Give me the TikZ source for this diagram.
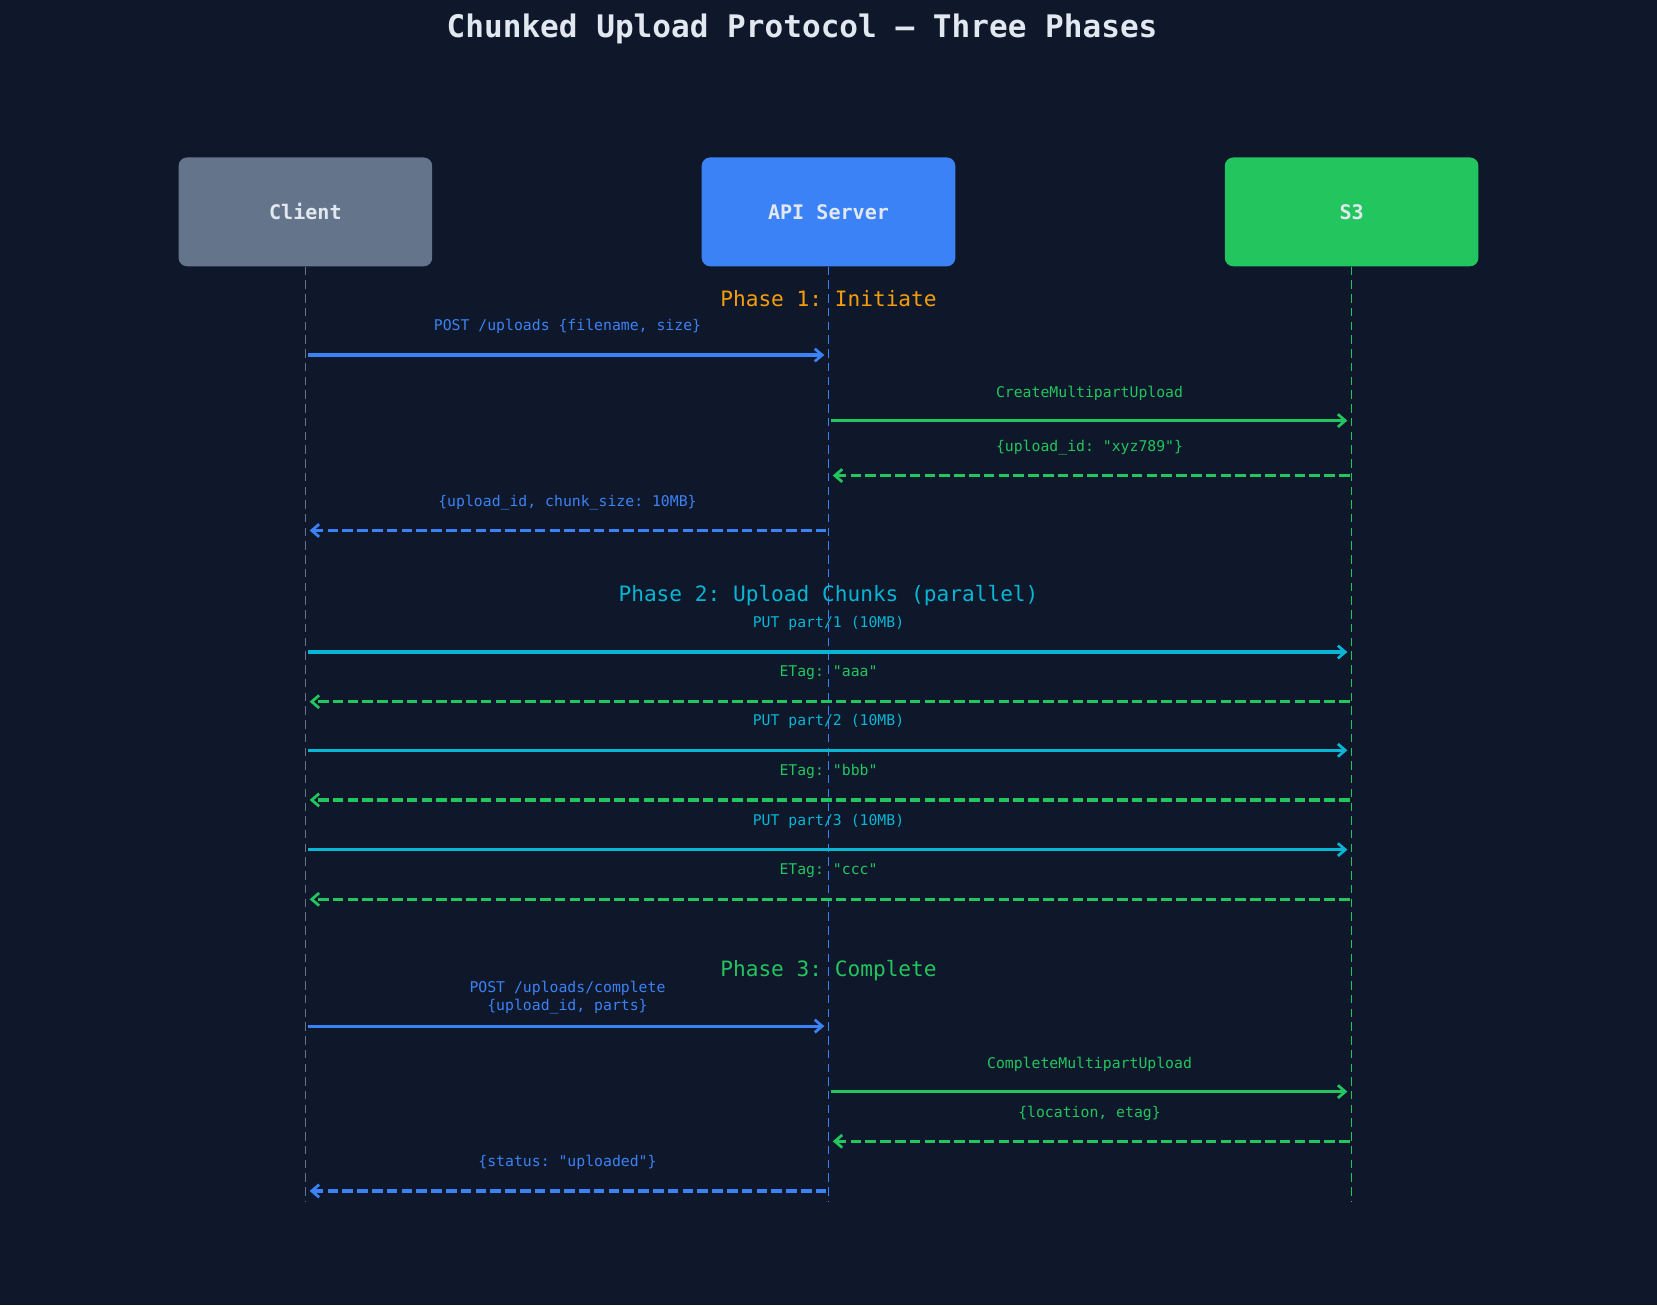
\documentclass[tikz,border=0pt]{standalone}
\usepackage{fontspec}
\setmonofont{DejaVu Sans Mono}
\usetikzlibrary{arrows.meta}
\definecolor{bg}{HTML}{0F172A}
\definecolor{cl}{HTML}{64748B}
\definecolor{api}{HTML}{3B82F6}
\definecolor{sss}{HTML}{22C55E}
\definecolor{cy}{HTML}{06B6D4}
\definecolor{orng}{HTML}{F59E0B}
\definecolor{tx}{HTML}{E2E8F0}
\begin{document}
\begin{tikzpicture}[x=0.5pt,y=-0.5pt,font=\ttfamily,
 box/.style={rounded corners=4pt,minimum width=120pt,minimum height=51.5pt,inner sep=0pt,text=tx,font=\ttfamily\bfseries\fontsize{9.5}{11}\selectfont},
 life/.style={line width=0.8pt,dash pattern=on 4pt off 2.5pt},
 msg/.style={line width=1.5pt,-{Straight Barb[length=3.5pt,width=6pt,line width=1.3pt]}},
 ret/.style={msg,dash pattern=on 5pt off 2pt},
 lbl/.style={font=\ttfamily\fontsize{7}{8.5}\selectfont,align=center},
 phase/.style={font=\ttfamily\fontsize{10}{12}\selectfont}]
\fill[bg] (0,0) rectangle (1568,1235);
\useasboundingbox (0,0) rectangle (1568,1235);
\node[text=tx,font=\ttfamily\bfseries\fontsize{14.7}{17}\selectfont] (title) at (759,27) {Chunked Upload Protocol — Three Phases};
\node[box,fill=cl] (c) at (289,200.5) {Client};
\node[box,fill=api] (a) at (784,200.5) {API Server};
\node[box,fill=sss] (s) at (1279,200.5) {S3};
\coordinate (ce) at (289,1137); \coordinate (ae) at (784,1137); \coordinate (se) at (1279,1137);
\draw[life,cl] (c.south) -- (ce);
\draw[life,api] (a.south) -- (ae);
\draw[life,sss] (s.south) -- (se);
% phase 1
\node[phase,text=orng] (p1) at (784,283) {Phase 1: Initiate};
\draw[msg,api] (291,336) -- (780,336);
\node[lbl,text=api] at (537,309) {POST /uploads \{filename, size\}};
\draw[msg,sss] (786,398) -- (1275,398);
\node[lbl,text=sss] at (1031,372) {CreateMultipartUpload};
\draw[ret,sss] (1277,450) -- (788,450);
\node[lbl,text=sss] at (1031,424) {\{upload\_id: "xyz789"\}};
\draw[ret,api] (782,502) -- (293,502);
\node[lbl,text=api] at (537,476) {\{upload\_id, chunk\_size: 10MB\}};
% phase 2
\node[phase,text=cy] (p2) at (784,564) {Phase 2: Upload Chunks (parallel)};
\foreach \y/\n/\e in {617/1/aaa,710/2/bbb,804/3/ccc}{
  \draw[msg,cy] (291,\y) -- (1275,\y);
  \node[lbl,text=cy] at (784,\y-27) {PUT part/\n\ (10MB)};
  \draw[ret,sss] (1277,\y+47) -- (293,\y+47);
  \node[lbl,text=sss] at (784,\y+20) {ETag: "\e"};
}
% phase 3
\node[phase,text=sss] (p3) at (784,918) {Phase 3: Complete};
\draw[msg,api] (291,971) -- (780,971);
\node[lbl,text=api] at (537,944) {POST /uploads/complete\\\{upload\_id, parts\}};
\draw[msg,sss] (786,1033) -- (1275,1033);
\node[lbl,text=sss] at (1031,1007) {CompleteMultipartUpload};
\draw[ret,sss] (1277,1080) -- (788,1080);
\node[lbl,text=sss] at (1031,1054) {\{location, etag\}};
\draw[ret,api] (782,1127) -- (293,1127);
\node[lbl,text=api] at (537,1100) {\{status: "uploaded"\}};
\end{tikzpicture}
\end{document}
